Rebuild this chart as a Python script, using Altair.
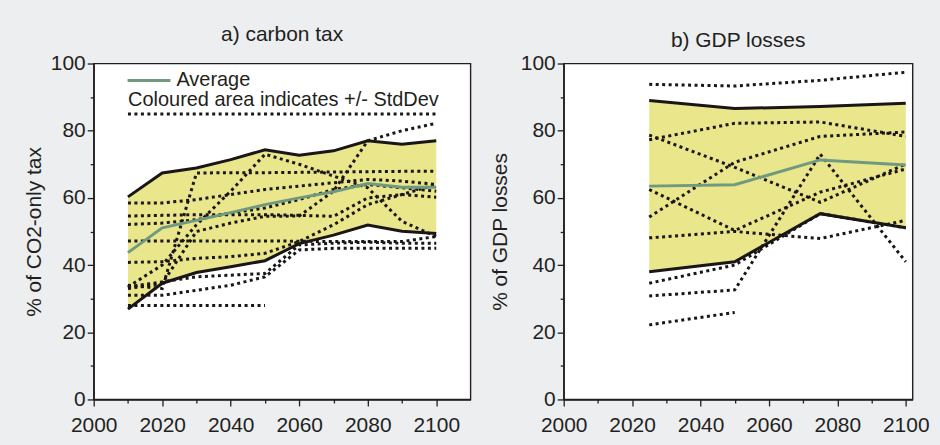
import altair as alt
import pandas as pd

# ---------------- data: panel a) carbon tax ----------------
years_a = [2010, 2020, 2030, 2040, 2050, 2060, 2070, 2080, 2090, 2100]
upper_a = [60.3, 67.4, 68.9, 71.4, 74.3, 72.7, 74.0, 77.0, 76.0, 77.0]
lower_a = [26.9, 34.6, 37.8, 39.5, 41.3, 46.4, 48.9, 51.9, 50.1, 49.4]
avg_a = [43.7, 51.1, 53.3, 55.6, 58.0, 60.0, 61.8, 64.3, 63.2, 63.2]

a_m1 = [85, 85, 85, 85, 85, 85, 85, 85, 85, 85]
a_m2 = [28, 28, 28, 28, 28, None, None, None, None, None]
a_m3 = [31, 31, 32.5, 34, 36.5, 44.5, 45, 45, 45, 45]
a_m4 = [33.5, 35, 36.5, 37, 37.5, 46, 46.5, 46.8, 46.5, 46.5]
a_m5 = [34, 33, 67.4, 67.5, 67.5, 67.6, 67.7, 67.8, 67.9, 67.9]
a_m6 = [33, 34.5, 50, 52.5, 54.5, 54.6, 62, 77, 80, 82.2]
a_m7 = [33.5, 40, 52, 62, 73, 70, 66.5, 63, 53, 48.5]
a_m8 = [58.5, 58.5, 59.5, 61, 62.5, 63.5, 64.5, 65.5, 65, 64]
a_m9 = [54.6, 54.8, 55, 55, 55, 54.8, 54.5, 60, 61, 60.2]
a_m10 = [52.1, 52.5, 53.5, 55.5, 57, 59.5, 62.5, 64, 63, 62]
a_m11 = [47.2, 47.2, 47.2, 47.2, 47.2, 47.1, 47, 47, 47, 48.5]
a_m12 = [40.8, 41, 42, 42.5, 43.5, 47, 52, 58, 61, 64]
models_a = [a_m1, a_m2, a_m3, a_m4, a_m5, a_m6, a_m7, a_m8, a_m9, a_m10, a_m11, a_m12]

# ---------------- data: panel b) GDP losses ----------------
years_b = [2025, 2050, 2075, 2100]
upper_b = [89.0, 86.6, 87.2, 88.2]
lower_b = [38.0, 41.0, 55.3, 51.1]
avg_b = [63.5, 63.9, 71.3, 69.8]

b_m1 = [93.8, 93.3, 95.0, 97.4]
b_m2 = [77.3, 82.2, 82.6, 78.3]
b_m3 = [78.7, 69.1, 58.7, 70.1]
b_m4 = [54.3, 70.6, 78.3, 79.6]
b_m5 = [62.5, 50.3, 61.7, 68.6]
b_m6 = [48.1, 50.0, 47.9, 53.3]
b_m7 = [34.6, 40.0, 55.3, 51.1]
b_m8 = [30.8, 32.6, 73.0, 41.0]
b_m9 = [22.2, 25.9, None, None]
models_b = [b_m1, b_m2, b_m3, b_m4, b_m5, b_m6, b_m7, b_m8, b_m9]

x_ticks = list(range(2000, 2101, 10))
y_ticks = list(range(0, 101, 10))

FONT = "Liberation Sans"
INK = "#231f20"
DOT = "#1a1616"
YELLOW = "#e9e68c"
GREEN = "#6f9a80"
BG = "#eceef0"
FS = 21


def panel(years, upper, lower, avg, models, xmax, width, title, ytitle, dy, tpad, legend):
    band = pd.DataFrame({"year": years, "upper": upper, "lower": lower, "avg": avg})
    rows = []
    for i, vals in enumerate(models):
        for yr, v in zip(years, vals):
            if v is not None:
                rows.append({"year": yr, "value": v, "model": f"m{i}"})
    lines = pd.DataFrame(rows)

    xaxis = alt.Axis(
        values=x_ticks, format="d", grid=False,
        labelExpr="datum.value % 20 === 0 ? datum.label : ''",
        tickSize={"condition": {"test": "datum.value % 20 === 0", "value": 6.5}, "value": 3.5},
        labelPadding=9, labelFlush=False,
    )
    yaxis = alt.Axis(
        values=y_ticks, grid=False,
        labelExpr="datum.value % 20 === 0 ? datum.label : ''",
        tickSize={"condition": {"test": "datum.value % 20 === 0", "value": 6.5}, "value": 3.5},
        labelPadding=2, titlePadding=tpad,
    )
    xs = alt.Scale(domain=[2000, xmax], nice=False, zero=False)
    ys = alt.Scale(domain=[0, 100], nice=False)

    def X():
        return alt.X("year:Q", scale=xs, axis=xaxis, title=None)

    def Y(field):
        return alt.Y(field, scale=ys, axis=yaxis, title=ytitle)

    area = alt.Chart(band).mark_area(color=YELLOW, opacity=1).encode(
        x=X(), y=Y("lower:Q"), y2="upper:Q")
    dots = alt.Chart(lines).mark_line(
        color=DOT, strokeWidth=3, strokeDash=[3, 3.5], strokeCap="butt"
    ).encode(x=X(), y=Y("value:Q"), detail="model:N")
    up = alt.Chart(band).mark_line(color=DOT, strokeWidth=3).encode(x=X(), y=Y("upper:Q"))
    lo = alt.Chart(band).mark_line(color=DOT, strokeWidth=3).encode(x=X(), y=Y("lower:Q"))
    av = alt.Chart(band).mark_line(color=GREEN, strokeWidth=3).encode(x=X(), y=Y("avg:Q"))
    layers = [area, dots, up, lo, av]

    if legend:
        one = pd.DataFrame({"t": ["x"]})
        leg_line = alt.Chart(one).mark_rule(color=GREEN, strokeWidth=3).encode(
            x=alt.value(34), x2=alt.value(77), y=alt.value(17))
        leg_t1 = alt.Chart(pd.DataFrame({"t": ["Average"]})).mark_text(
            align="left", baseline="alphabetic", font=FONT, fontSize=20, color=INK
        ).encode(x=alt.value(83), y=alt.value(22.5), text="t:N")
        leg_t2 = alt.Chart(pd.DataFrame({"t": ["Coloured area indicates +/- StdDev"]})).mark_text(
            align="left", baseline="alphabetic", font=FONT, fontSize=20, color=INK
        ).encode(x=alt.value(34.5), y=alt.value(42.5), text="t:N")
        layers += [leg_line, leg_t1, leg_t2]

    return alt.layer(*layers).properties(
        width=width, height=337,
        title=alt.TitleParams(title, fontSize=FS, font=FONT, fontWeight="normal",
                              color=INK, offset=5, dy=dy),
    )


left = panel(years_a, upper_a, lower_a, avg_a, models_a, 2110, 378,
             "a) carbon tax", "% of CO2-only tax", -3, 6, True)
right = panel(years_b, upper_b, lower_b, avg_b, models_b, 2102, 350,
              "b) GDP losses", "% of GDP losses", 3, 10, False)

chart = alt.hconcat(left, right, spacing=16.5).properties(
    padding={"left": 22, "top": 22, "right": 10, "bottom": 10},
    background=BG,
).configure_view(
    stroke=INK, strokeWidth=1.4, fill="white"
).configure_axis(
    labelFont=FONT, labelFontSize=FS, labelColor=INK,
    titleFont=FONT, titleFontSize=FS, titleColor=INK, titleFontWeight="normal",
    domainColor=INK, domainWidth=1.4, tickColor=INK, tickWidth=1.3,
)

chart.save("out.html", embed_options={"renderer": "svg", "actions": False})
